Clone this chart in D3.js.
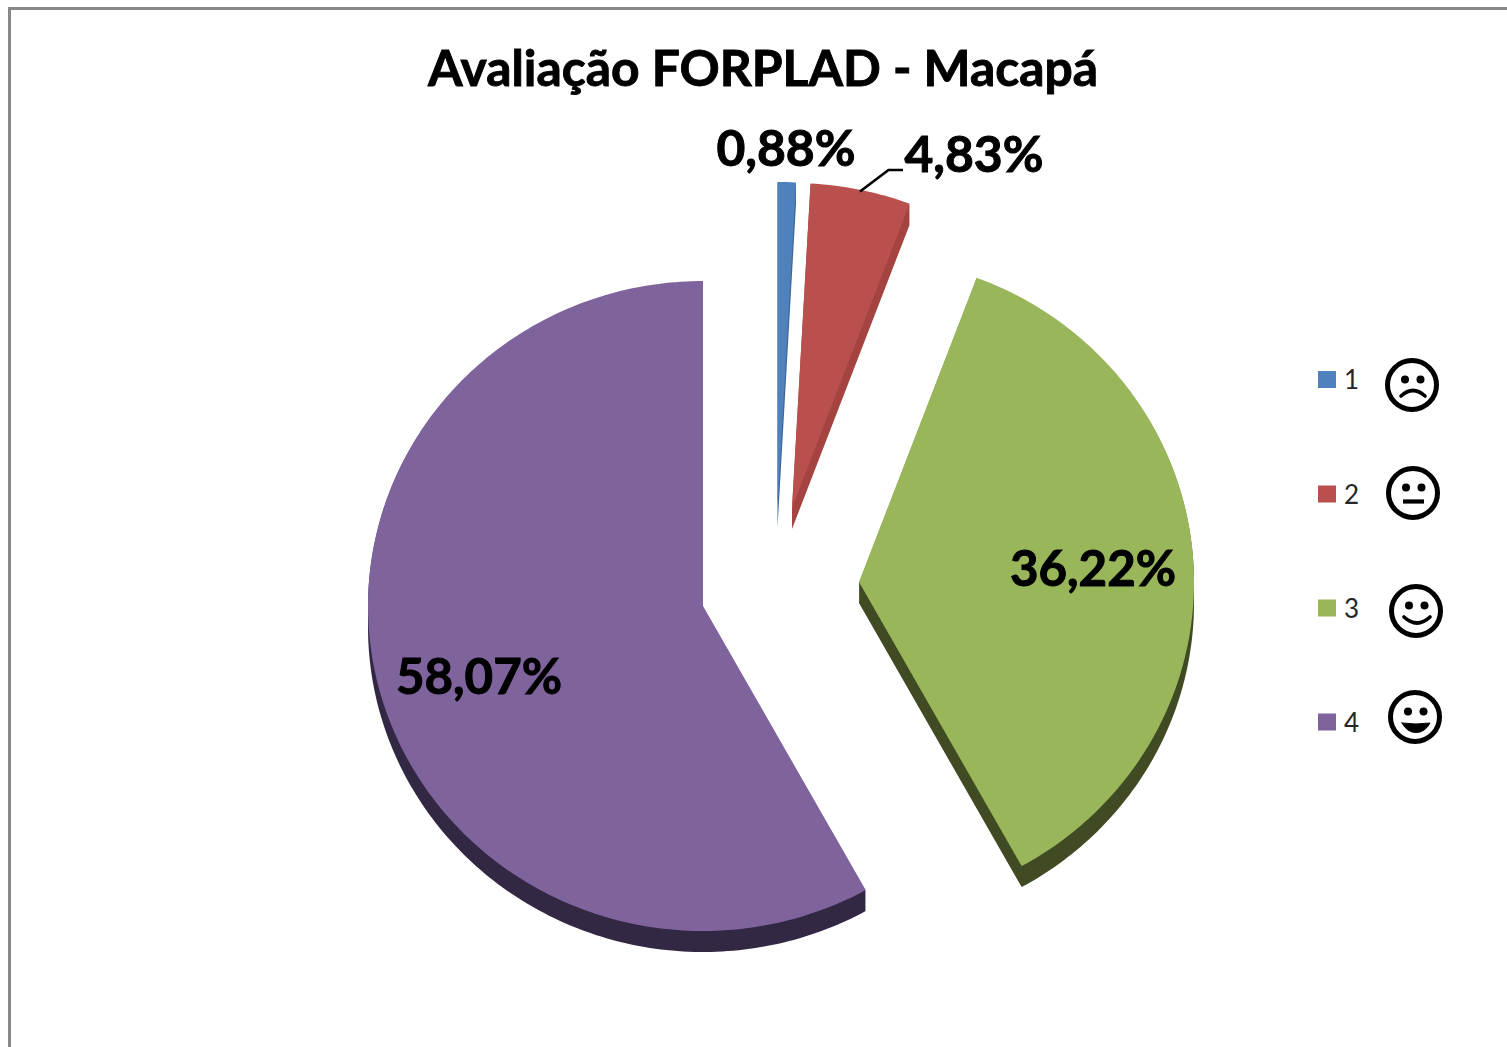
<!DOCTYPE html>
<html><head><meta charset="utf-8">
<script src="https://cdn.jsdelivr.net/npm/d3@7"></script>
<style>html,body{margin:0;padding:0;background:#fff;overflow:hidden}svg{display:block}text{font-family:Lato,"Open Sans",sans-serif}</style>
</head><body><svg id="c" width="1507" height="1047"></svg>
<script>
const title = "Avaliação FORPLAD - Macapá";
const categories = ["1","2","3","4"];
const values = [0.88,4.83,36.22,58.07];
const valueLabels = ["0,88%","4,83%","36,22%","58,07%"];
const topColors = ["#4F81BD","#B9504E","#99B65A","#7F639C"];
const sideColors = ["#3F6797","#A4433F","#404B23","#332843"];
const faces = ["sad","neutral","smile","grin"];

const svg = d3.select("#c");
// chart frame
svg.append("path").attr("d","M9.5,1047V8.5H1507").attr("fill","none").attr("stroke","#888").attr("stroke-width",3);

svg.append("text").attr("x",763).attr("y",86).attr("text-anchor","middle")
  .attr("font-size",49).attr("font-weight",700).attr("fill","#000").attr("stroke","#000").attr("stroke-width",0.9)
  .attr("textLength",670).attr("lengthAdjust","spacingAndGlyphs").text(title);

// layout of the exploded slices (apex of each top surface)
const apex = [[777.5,507],[792,508],[859,582],[703,606]];
const rx = 335, ry = 325, depth = 21;
const arcs = d3.pie().sort(null).value(d=>d)(values);
const g = svg.append("g");
const sx = d3.scaleLinear().domain([-1,1]).range([-rx,rx]);
const sy = d3.scaleLinear().domain([-1,1]).range([-ry,ry]);
function slicePath(a, ox, oy){
  const p = d3.path();
  const pts = [[0,0]];
  const n = Math.max(4, Math.ceil((a.endAngle-a.startAngle)*60));
  for(let i=0;i<=n;i++){
    const t = a.startAngle+(a.endAngle-a.startAngle)*i/n;
    pts.push([Math.sin(t),-Math.cos(t)]);
  }
  pts.forEach((q,i)=>{const x=ox+sx(q[0]),y=oy+sy(q[1]); i?p.lineTo(x,y):p.moveTo(x,y);});
  p.closePath();
  return p.toString();
}
// side walls: the slice swept downwards by the pie depth
arcs.forEach((a,i)=>{
  let d="";
  for(let k=1;k<=depth;k++) d+=slicePath(a,apex[i][0],apex[i][1]+k);
  g.append("path").attr("d",d).attr("fill",sideColors[i]);
});
arcs.forEach((a,i)=>{
  g.append("path").attr("d",slicePath(a,apex[i][0],apex[i][1])).attr("fill",topColors[i]);
});

// leader line
svg.append("path").attr("d","M860,191.5L888.5,170H903").attr("fill","none").attr("stroke","#000").attr("stroke-width",2.6);

// data labels
const labelPos = [[786,166],[974,172],[1093,586],[479,694]];
svg.selectAll(".lbl").data(valueLabels).join("text").attr("class","lbl")
  .attr("x",(d,i)=>labelPos[i][0]).attr("y",(d,i)=>labelPos[i][1])
  .attr("text-anchor","middle").attr("font-size",50).attr("font-weight",700).attr("fill","#000")
  .attr("stroke","#000").attr("stroke-width",1)
  .attr("textLength",(d,i)=>i<2?139:166).attr("lengthAdjust","spacingAndGlyphs").text(d=>d);

// legend
const legY = [380,494.5,608.5,722.5];
const leg = svg.selectAll(".leg").data(categories).join("g").attr("class","leg");
leg.append("rect").attr("x",1318).attr("y",(d,i)=>legY[i]-9).attr("width",18).attr("height",17)
  .attr("fill",(d,i)=>topColors[i]);
leg.append("text").attr("x",1344).attr("y",(d,i)=>legY[i]+9).attr("font-size",26).attr("fill","#262626").text(d=>d);

// emoticons
const faceC = [[1412,385],[1413,493],[1416,611],[1415,717]];
faces.forEach((f,i)=>{
  const h = svg.append("g").attr("transform",`translate(${faceC[i]})`);
  h.append("circle").attr("r",24.5).attr("fill","#fff").attr("stroke","#000").attr("stroke-width",5);
  [-7,8.5].forEach(x=>{
    h.append("circle").attr("cx",x).attr("cy",-5.5).attr("r",4).attr("fill","#000");
  });
  const mouth = h.append("path").attr("fill","none").attr("stroke","#000").attr("stroke-width",3.6).attr("stroke-linecap","round");
  if(f==="sad") mouth.attr("d","M-11,11Q1,0 13,11");
  if(f==="neutral") mouth.attr("d","M-10,8.5H11").attr("stroke-width",4.2).attr("stroke-linecap","butt");
  if(f==="smile") mouth.attr("d","M-12,6Q1,18 14,6");
  if(f==="grin") mouth.attr("d","M-13,6Q1,8 15,6Q10,15.5 1,15.5Q-8,15.5 -13,6Z").attr("fill","#000").attr("stroke-width",1);
});
</script></body></html>
